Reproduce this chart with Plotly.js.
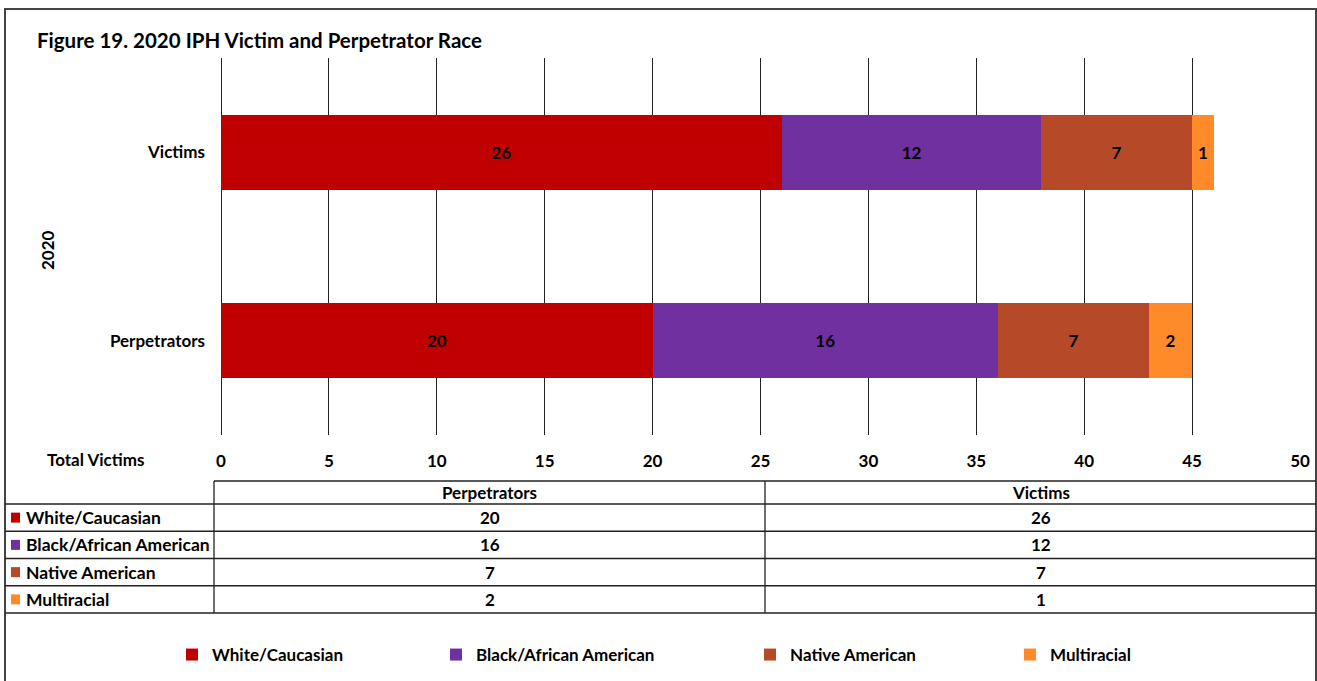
<!DOCTYPE html>
<html>
<head>
<meta charset="utf-8">
<script src="https://cdn.plot.ly/plotly-3.0.1.min.js"></script>
<style>html,body{margin:0;padding:0;background:#fff;}#chart{width:1317px;height:681px;}</style>
</head>
<body>
<div id="chart"></div>
<script>
// ---- data ----
const groups = ["Perpetrators", "Victims"];
const races = ["White/Caucasian", "Black/African American", "Native American", "Multiracial"];
const perpetrators = [20, 16, 7, 2];
const victims = [26, 12, 7, 1];
const yearLabel = "2020";
const rowHeaderLabel = "Total Victims";
const titleText = "Figure 19. 2020 IPH Victim and Perpetrator Race";

// ---- styles ----
const colors = ["#C00000", "#7030A0", "#B64A28", "#FF8A2A"];
const FONT = "Lato, 'Open Sans', 'DejaVu Sans', sans-serif";
const FS = 17;

// geometry helpers (pixel -> paper)
const W = 1317, H = 681;
const L = 221, R = 1300, T = 58, B = 435;
const px = v => (v - L) / (R - L);
const py = v => (B - v) / (B - T);
const bold = (size) => ({family: FONT, size: size, color: "#000", weight: "bold"});

const traces = races.map((r, i) => {
  const xs = [perpetrators[i], victims[i]];
  return {
    type: "bar",
    orientation: "h",
    name: r,
    y: groups,
    x: xs,
    text: xs.map(String),
    textposition: "inside",
    insidetextanchor: "middle",
    textangle: 0,
    constraintext: "none",
    textfont: bold(FS),
    marker: {color: colors[i], line: {width: 0}},
    legend: i === 0 ? "legend" : "legend" + (i + 1),
    hoverinfo: "skip"
  };
});

// legend positions (text start in px)
const legendTextX = [212, 476, 790, 1050];
const legendY = 655;

const shapes = [];
const annotations = [];
const lineStyle = {color: "#222", width: 1.3};

// outer border
shapes.push({type: "rect", xref: "paper", yref: "paper",
  x0: px(5), x1: px(1316), y0: py(9), y1: py(700),
  line: {color: "#444", width: 2}, fillcolor: "rgba(0,0,0,0)", layer: "below"});

// table geometry
const tableTop = 481, headerBottom = 504, rowH = 27.25;
const colDiv = [214, 765, 1316];
const rowLines = [headerBottom];
for (let i = 1; i <= races.length; i++) rowLines.push(headerBottom + rowH * i);
shapes.push({type: "line", xref: "paper", yref: "paper", x0: px(214), x1: px(1316), y0: py(tableTop), y1: py(tableTop), line: lineStyle});
rowLines.forEach(yy => shapes.push({type: "line", xref: "paper", yref: "paper", x0: px(5), x1: px(1316), y0: py(yy), y1: py(yy), line: lineStyle}));
[214, 765].forEach(xx => shapes.push({type: "line", xref: "paper", yref: "paper", x0: px(xx), x1: px(xx), y0: py(tableTop), y1: py(rowLines[rowLines.length - 1]), line: lineStyle}));

// header texts
const colCenters = [(colDiv[0] + colDiv[1]) / 2, (colDiv[1] + colDiv[2]) / 2];
groups.forEach((g, j) => annotations.push({xref: "paper", yref: "paper", x: px(colCenters[j]), y: py((tableTop + headerBottom) / 2),
  text: g, showarrow: false, xanchor: "center", yanchor: "middle", font: bold(FS)}));

// rows
const tableVals = [perpetrators, victims];
races.forEach((r, i) => {
  const yc = headerBottom + rowH * (i + 0.5);
  shapes.push({type: "rect", xref: "paper", yref: "paper", x0: px(11), x1: px(20), y0: py(yc - 5), y1: py(yc + 5),
    fillcolor: colors[i], line: {width: 0}});
  annotations.push({xref: "paper", yref: "paper", x: px(24), y: py(yc), text: r, showarrow: false,
    xanchor: "left", yanchor: "middle", font: bold(17.5)});
  tableVals.forEach((vals, j) => annotations.push({xref: "paper", yref: "paper", x: px(colCenters[j]), y: py(yc),
    text: String(vals[i]), showarrow: false, xanchor: "center", yanchor: "middle", font: bold(FS)}));
});

// "Total Victims" row label
annotations.push({xref: "paper", yref: "paper", x: px(45), y: py(459), text: rowHeaderLabel, showarrow: false,
  xanchor: "left", yanchor: "middle", font: bold(FS)});
// year axis label
annotations.push({xref: "paper", yref: "paper", x: px(47), y: py(250), text: yearLabel, showarrow: false, textangle: -90,
  xanchor: "center", yanchor: "middle", font: bold(FS)});

const layout = {
  width: W, height: H,
  margin: {l: L, r: W - R, t: T, b: H - B, pad: 0},
  paper_bgcolor: "#fff", plot_bgcolor: "#fff",
  font: bold(FS),
  title: {text: titleText, xref: "container", yref: "container", x: 37 / W, xanchor: "left",
    y: 1 - 41 / H, yanchor: "middle", font: bold(20.5)},
  barmode: "stack",
  bargap: 0.6,
  xaxis: {range: [0, 50], dtick: 5, tick0: 0, showgrid: true, gridcolor: "#222", gridwidth: 1,
    zeroline: true, zerolinecolor: "#222", zerolinewidth: 1, showline: false, ticks: "",
    ticklabelstandoff: 14, tickfont: bold(FS), fixedrange: true},
  yaxis: {type: "category", categoryorder: "array", categoryarray: groups, showgrid: false, zeroline: false,
    showline: false, ticks: "", ticklabelstandoff: 15, tickfont: bold(FS), fixedrange: true},
  showlegend: true,
  shapes: shapes,
  annotations: annotations
};
legendTextX.forEach((tx, i) => {
  const key = i === 0 ? "legend" : "legend" + (i + 1);
  layout[key] = {xref: "container", yref: "container", x: (tx - 40) / W, xanchor: "left", y: 1 - legendY / H, yanchor: "middle",
    orientation: "h", bgcolor: "rgba(0,0,0,0)", borderwidth: 0, font: bold(FS)};
});

Plotly.newPlot("chart", traces, layout, {displayModeBar: false, staticPlot: true});
</script>
</body>
</html>
